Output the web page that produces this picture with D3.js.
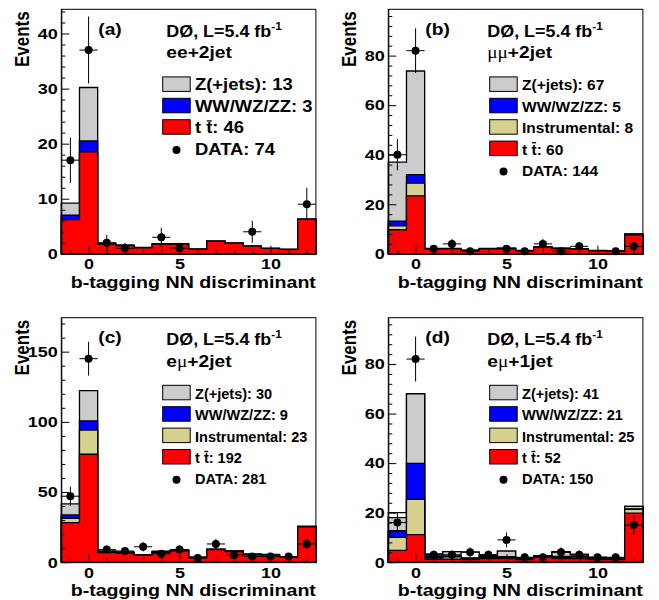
<!DOCTYPE html>
<html>
<head>
<meta charset="utf-8">
<script src="https://cdn.jsdelivr.net/npm/d3@7"></script>
<style>
  body { margin: 0; background: #fff; }
</style>
</head>
<body>
<svg id="chart" width="659" height="600"></svg>
<script>
// --- data
const binCenters = [-1, 0, 1, 2, 3, 4, 5, 6, 7, 8, 9, 10, 11, 12];
const xDomain = [-1.5, 12.5];
const xMajorTicks = [0, 5, 10];
const xMinorTicks = [-1, 1, 2, 3, 4, 6, 7, 8, 9, 11, 12];

// (a) ee+2jet
const ttA    = [6.2, 18.5, 1.75, 1.5, 1.1, 1.75, 1.75, 0.85, 2.3, 1.95, 1.4, 1.0, 0.8, 6.3];
const wvA    = [0.8, 2.0, 0.02, 0, 0, 0, 0, 0, 0, 0, 0, 0, 0, 0];
const zjA    = [2.2, 9.7, 0.15, 0.1, 0.05, 0.1, 0.1, 0, 0, 0, 0, 0, 0, 0];
const dataA  = [17, 37, 2, 1, 0, 3, 1, 0, 0, 0, 4, 0, 0, 9];
const yTicksA = [0, 10, 20, 30, 40];
const yieldsA = [13, 3, 46, 74];

// (b) mumu+2jet
const ttB    = [9.7, 23.4, 2.0, 2.0, 1.3, 2.0, 2.1, 1.2, 2.7, 2.1, 1.9, 1.2, 1.0, 7.7];
const insB   = [1.6, 5.1, 0.1, 0.1, 0.05, 0.1, 0.1, 0.05, 0.1, 0.1, 0.1, 0.05, 0.05, 0.1];
const wvB    = [1.9, 3.5, 0, 0, 0, 0, 0, 0, 0, 0, 0, 0, 0, 0];
const zjB    = [23.8, 41.8, 0.1, 0.1, 0.1, 0.1, 0.1, 0.1, 0.1, 0.1, 0.1, 0.1, 0.1, 0.2];
const dataB  = [40, 82, 2, 4, 1, 0, 2, 1, 4, 1, 3, 0, 1, 3];
const yTicksB = [0, 20, 40, 60, 80];
const yieldsB = [67, 5, 8, 60, 144];

// (c) emu+2jet
const ttC    = [28.2, 76.9, 6.9, 6.4, 5.0, 7.1, 8.1, 3.3, 9.0, 7.6, 5.5, 5.0, 3.6, 25.2];
const insC   = [3.1, 17.3, 0.3, 0.3, 0.1, 0.2, 0.2, 0.1, 0.1, 0.2, 0.1, 0.2, 0.1, 0.2];
const wvC    = [2.4, 6.4, 0.2, 0.1, 0, 0.1, 0.1, 0, 0, 0.1, 0, 0.1, 0.1, 0];
const zjC    = [7.8, 21.6, 0.7, 0.6, 0.1, 0.4, 0.4, 0.2, 0.2, 0.2, 0.1, 0.2, 0.2, 0.2];
const dataC  = [47, 145, 9, 8, 11, 6, 9, 3, 13, 5, 4, 4, 4, 13];
const yTicksC = [0, 50, 100, 150];
const yieldsC = [30, 9, 23, 192, 281];

// (d) emu+1jet
const ttD    = [4.8, 11.1, 1.2, 1.2, 1.0, 1.5, 1.5, 1.0, 2.0, 1.5, 1.5, 1.0, 1.0, 19.8];
const insD   = [5.2, 14.3, 0.5, 1.0, 0.3, 0.4, 0.5, 0.3, 0.3, 0.5, 0.6, 0.3, 0.2, 1.5];
const wvD    = [2.7, 14.5, 0.8, 0.3, 0.2, 0.3, 0.2, 0.1, 0.1, 0.3, 0.3, 0.2, 0.1, 0.2];
const zjD    = [5.3, 28.1, 0.8, 1.8, 0.25, 0.6, 2.3, 0.35, 0.2, 1.8, 0.7, 0.4, 0.3, 1.0];
const otD    = [2.0, 0, 0, 0, 2.45, 0, 0, 0, 0, 0.2, 0, 0, 0, 0];
const dataD  = [16, 82, 3, 3, 4, 3, 9, 2, 2, 4, 3, 2, 2, 15];
const yTicksD = [0, 20, 40, 60, 80];
const yieldsD = [41, 21, 25, 52, 150];

// --- styles
const FONT = "'Liberation Sans', Arial, Helvetica, sans-serif";
const SX = 1.2; // text in the original is a bit wide
const cTT = "#ff0000", cWV = "#0000ff", cIns = "#d6d18f", cZ = "#cccccc", cOther = "#ffffff";
const frameW = 254.6, frameH = 244.5;

const panels = [
  { tag: "(a)", channel: "ee+2jet", ymax: 44.4, yTicks: yTicksA, yMinor: 2,
    stack: [[ttA, cTT], [wvA, cWV], [zjA, cZ]], data: dataA, legFont: [16, 1.15],
    legend: [["Z(+jets)", cZ], ["WW/WZ/ZZ", cWV], ["tt", cTT], ["DATA", null]], yields: yieldsA },
  { tag: "(b)", channel: "μμ+2jet", ymax: 98.7, yTicks: yTicksB, yMinor: 4,
    stack: [[ttB, cTT], [insB, cIns], [wvB, cWV], [zjB, cZ]], data: dataB, legFont: [15.5, 1.0],
    legend: [["Z(+jets)", cZ], ["WW/WZ/ZZ", cWV], ["Instrumental", cIns], ["tt", cTT], ["DATA", null]], yields: yieldsB },
  { tag: "(c)", channel: "eμ+2jet", ymax: 174.2, yTicks: yTicksC, yMinor: 10,
    stack: [[ttC, cTT], [insC, cIns], [wvC, cWV], [zjC, cZ]], data: dataC, legFont: [15, 0.97],
    legend: [["Z(+jets)", cZ], ["WW/WZ/ZZ", cWV], ["Instrumental", cIns], ["tt", cTT], ["DATA", null]], yields: yieldsC },
  { tag: "(d)", channel: "eμ+1jet", ymax: 98.7, yTicks: yTicksD, yMinor: 4,
    stack: [[ttD, cTT], [insD, cIns], [wvD, cWV], [zjD, cZ], [otD, cOther]], data: dataD, legFont: [15, 0.97],
    legend: [["Z(+jets)", cZ], ["WW/WZ/ZZ", cWV], ["Instrumental", cIns], ["tt", cTT], ["DATA", null]], yields: yieldsD }
];

const svg = d3.select("#chart");

// text helper: bold text, stretched sideways like the original
function wideText(parent, x, y, size, sx, extra) {
  const g = parent.append("g").attr("transform", `translate(${x},${y}) scale(${sx},1)` + (extra || ""));
  const t = g.append("text")
    .attr("font-family", FONT).attr("font-weight", "bold")
    .attr("font-size", size).attr("fill", "#000");
  return t;
}

function addMixed(t, str) {
  str.split(/(μ)/).forEach(function (part) {
    if (!part) return;
    const s = t.append("tspan").text(part);
    if (part === "μ") s.attr("font-family", "'Liberation Serif', serif").attr("font-weight", "normal");
  });
}

panels.forEach(function (p, k) {
  const col = k % 2, row = Math.floor(k / 2);
  const fx = col * 327 + 61.3, fy = row * 308.4 + 9.3;
  const g = svg.append("g");

  const x = d3.scaleLinear().domain(xDomain).range([fx, fx + frameW]);
  const y = d3.scaleLinear().domain([0, p.ymax]).range([fy + frameH, fy]);

  // cumulative stack levels
  let run = binCenters.map(() => 0);
  const levels = p.stack.map(function (s) {
    run = run.map((r, i) => r + s[0][i]);
    return { color: s[1], sums: run.slice() };
  });

  const area = d3.area()
    .x(d => x(d.x))
    .y0(y(0))
    .y1(d => y(d.v))
    .curve(d3.curveStep);

  levels.slice().reverse().forEach(function (l) {
    const pts = [{ x: xDomain[0], v: l.sums[0] }]
      .concat(binCenters.map((b, i) => ({ x: b, v: l.sums[i] })))
      .concat([{ x: xDomain[1], v: l.sums[l.sums.length - 1] }]);
    g.append("path")
      .attr("d", area(pts))
      .attr("fill", l.color)
      .attr("stroke", "#000")
      .attr("stroke-width", 1.3);
  });

  // frame
  g.append("rect")
    .attr("x", fx).attr("y", fy)
    .attr("width", frameW).attr("height", frameH)
    .attr("fill", "none").attr("stroke", "#000").attr("stroke-width", 1);

  // y axis
  const yMinorTicks = d3.range(0, p.ymax, p.yMinor).filter(v => p.yTicks.indexOf(v) < 0);
  g.append("g")
    .attr("transform", `translate(${fx},0)`)
    .call(d3.axisLeft(y).tickValues(yMinorTicks).tickSizeInner(-4).tickSizeOuter(0).tickFormat(""))
    .call(s => s.select(".domain").remove());
  const ya = g.append("g")
    .attr("transform", `translate(${fx},0)`)
    .call(d3.axisLeft(y).tickValues(p.yTicks).tickSizeInner(-8).tickSizeOuter(0).tickPadding(3).tickFormat(d3.format("d")));
  ya.attr("font-size", 15).attr("font-family", FONT).attr("font-weight", "bold");
  ya.selectAll("text").attr("fill", "#000").attr("transform", `scale(${SX},1)`);

  // x axis
  g.append("g")
    .attr("transform", `translate(0,${fy + frameH})`)
    .call(d3.axisBottom(x).tickValues(xMinorTicks).tickSizeInner(-4).tickSizeOuter(0).tickFormat(""))
    .call(s => s.select(".domain").remove());
  const xa = g.append("g")
    .attr("transform", `translate(0,${fy + frameH})`)
    .call(d3.axisBottom(x).tickValues(xMajorTicks).tickSizeInner(-8).tickSizeOuter(0).tickPadding(5).tickFormat(d3.format("d")));
  xa.attr("font-size", 15).attr("font-family", FONT).attr("font-weight", "bold");
  xa.selectAll("text").attr("fill", "#000").attr("transform", `scale(${SX},1)`);

  // data points with sqrt(N) errors
  const dpts = binCenters.map((b, i) => ({ b: b, n: p.data[i] })).filter(d => d.n > 0);
  const dg = g.append("g");
  dg.selectAll(".eh").data(dpts).join("line")
    .attr("x1", d => x(d.b - 0.5)).attr("x2", d => x(d.b + 0.5))
    .attr("y1", d => y(d.n)).attr("y2", d => y(d.n))
    .attr("stroke", "#000").attr("stroke-width", 1);
  dg.selectAll(".ev").data(dpts).join("line")
    .attr("x1", d => x(d.b)).attr("x2", d => x(d.b))
    .attr("y1", d => y(d.n - Math.sqrt(d.n))).attr("y2", d => y(d.n + Math.sqrt(d.n)))
    .attr("stroke", "#000").attr("stroke-width", 1);
  dg.selectAll("circle").data(dpts).join("circle")
    .attr("cx", d => x(d.b)).attr("cy", d => y(d.n))
    .attr("r", 4).attr("fill", "#000");

  // legend
  p.legend.forEach(function (entry, i) {
    const base = fy + 81 + i * 21.4;
    if (entry[1]) {
      g.append("rect")
        .attr("x", fx + 101.4).attr("y", base - 13.4)
        .attr("width", 27.5).attr("height", 14.5)
        .attr("fill", entry[1]).attr("stroke", "#000").attr("stroke-width", 1);
    } else {
      g.append("circle").attr("cx", fx + 115.2).attr("cy", base - 4.5).attr("r", 4).attr("fill", "#000");
    }
    const t = wideText(g, fx + 133.7, base, p.legFont[0], p.legFont[1]);
    if (entry[0] === "tt") {
      t.text("t t: " + p.yields[i]);
      const n = t.node();
      const x0 = n.getStartPositionOfChar(2).x, x1 = n.getEndPositionOfChar(2).x;
      d3.select(n.parentNode).append("line")
        .attr("x1", x0 + 0.5).attr("x2", x1 - 0.5)
        .attr("y1", -0.76 * p.legFont[0]).attr("y2", -0.76 * p.legFont[0])
        .attr("stroke", "#000").attr("stroke-width", 1.3);
    } else {
      t.text(entry[0] + ": " + p.yields[i]);
    }
  });

  // panel tag and experiment label
  wideText(g, fx + 37, fy + 25.7, 16, SX).text(p.tag);
  const lx = fx + (col === 0 ? 105 : 99);
  const exp = wideText(g, lx, fy + 27.4, 16, 1.12);
  exp.append("tspan").text("DØ, L=5.4 fb");
  exp.append("tspan").attr("font-size", 10.5).attr("dy", -7).text("-1");
  addMixed(wideText(g, lx, fy + 49, 16, SX), p.channel);

  // axis titles
  wideText(g, fx + frameW, fy + frameH + 34, 16.1, 1.22).attr("text-anchor", "end").text("b-tagging NN discriminant");
  wideText(g, fx - 32, fy + 2, 17, SX, " rotate(-90)").attr("text-anchor", "end").text("Events");
});
</script>
</body>
</html>
